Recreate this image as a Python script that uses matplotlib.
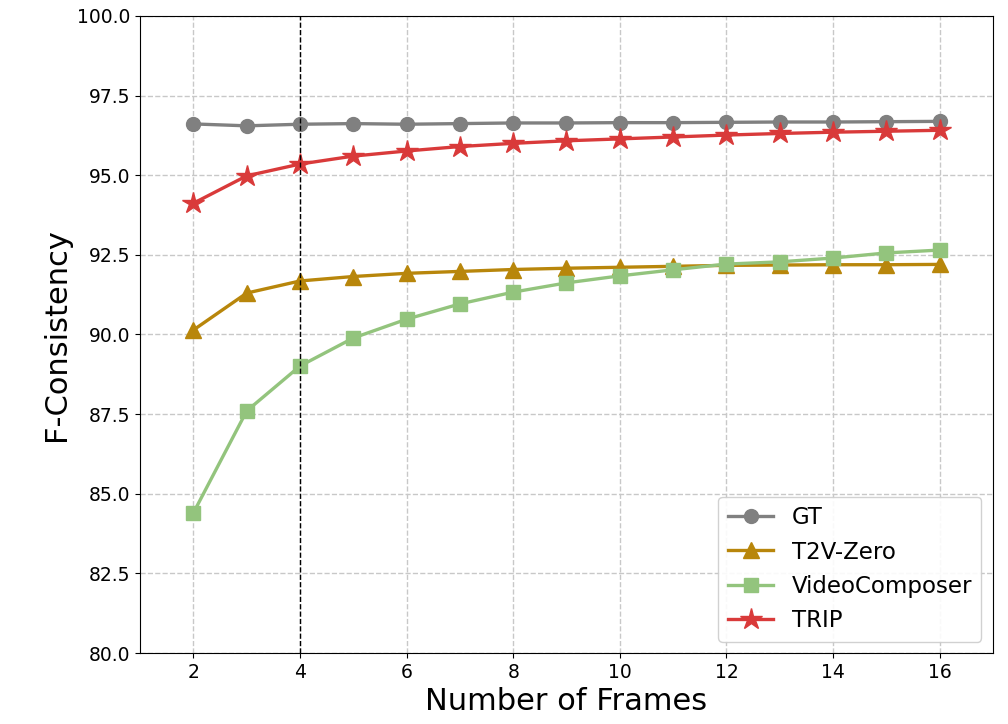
import matplotlib
matplotlib.use("Agg")
import matplotlib.pyplot as plt

frames = list(range(2, 17))
gt = [96.61, 96.55, 96.60, 96.62, 96.60, 96.62, 96.64, 96.64, 96.65, 96.65, 96.66, 96.67, 96.67, 96.68, 96.69]
t2v_zero = [90.14, 91.30, 91.68, 91.82, 91.92, 91.98, 92.04, 92.08, 92.11, 92.14, 92.17, 92.18, 92.19, 92.19, 92.20]
videocomposer = [84.40, 87.60, 89.01, 89.89, 90.48, 90.96, 91.33, 91.62, 91.84, 92.03, 92.21, 92.28, 92.40, 92.56, 92.65]
trip = [94.12, 94.98, 95.35, 95.60, 95.76, 95.90, 96.00, 96.08, 96.14, 96.20, 96.26, 96.31, 96.35, 96.38, 96.41]

xticks = [2, 4, 6, 8, 10, 12, 14, 16]
yticks = [80.0, 82.5, 85.0, 87.5, 90.0, 92.5, 95.0, 97.5, 100.0]

fig = plt.figure(figsize=(10.08, 7.24), dpi=100)
ax = fig.add_axes([0.139, 0.098, 0.846, 0.880])

ax.plot(frames, gt, color="#808080", marker="o", markersize=10, linewidth=2.4, label="GT")
ax.plot(frames, t2v_zero, color="#b8860b", marker="^", markersize=11, linewidth=2.4, label="T2V-Zero")
ax.plot(frames, videocomposer, color="#93c47d", marker="s", markersize=10, linewidth=2.4, label="VideoComposer")
ax.plot(frames, trip, color="#d93a3a", marker="*", markersize=16, linewidth=2.4, label="TRIP")

ax.axvline(4, color="black", linestyle="--", linewidth=1)

ax.set_xlim(1, 17)
ax.set_ylim(80, 100)
ax.set_xticks(xticks)
ax.set_yticks(yticks)
ax.set_yticklabels([f"{v:.1f}" for v in yticks])
ax.tick_params(labelsize=13.5)
ax.grid(True, linestyle="--", color="#c8c8c8", linewidth=1)
ax.set_axisbelow(True)
ax.set_xlabel("Number of Frames", fontsize=22)
ax.set_ylabel("F-Consistency", fontsize=22)
ax.legend(loc="lower right", fontsize=16.5, framealpha=0.9)

fig.savefig("out.png", dpi=100)
